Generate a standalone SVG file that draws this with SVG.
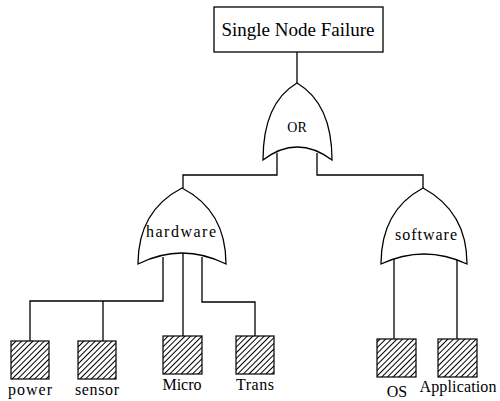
<svg xmlns="http://www.w3.org/2000/svg" width="500" height="401" viewBox="0 0 500 401">
<style>
.s{fill:none;stroke:#000;stroke-width:1.3}
.g{fill:#fff;stroke:#000;stroke-width:1.3}
.b{fill:url(#hatch);stroke:#000;stroke-width:1.2}
text{font-family:'Liberation Serif','DejaVu Serif',serif;font-size:16px;fill:#000;text-anchor:middle}
.t{font-size:19px}
.o{font-size:14px}
.m{font-size:16px}
</style>
<defs>
<pattern id="hatch" width="4" height="4" patternUnits="userSpaceOnUse" patternTransform="rotate(45)">
<rect width="4" height="4" fill="#fff"/>
<line x1="0.5" y1="0" x2="0.5" y2="4" stroke="#000" stroke-width="1"/>
</pattern>
</defs>
<rect width="500" height="401" fill="#fff"/>
<g id="connectors" class="s">
<path d="M297,52 V83"/>
<path d="M277,153 V175 H183 V188"/>
<path d="M317,153 V175 H423 V188"/>
<path d="M163,257 V301 H30 V341"/>
<path d="M103,301 V341"/>
<path d="M183,253 V336"/>
<path d="M202,257 V302 H255 V336"/>
<path d="M394,257 V339"/>
<path d="M457,258 V339"/>
</g>
<g id="top">
<rect x="214" y="7" width="169" height="45" class="g"/>
<text x="298" y="36" class="t">Single Node Failure</text>
</g>
<g id="or">
<path class="g" d="M263,160 C263,120 275,96 297,83 C319,96 332,120 332,160 Q297,134 263,160 Z"/>
<text x="297" y="132" class="o">OR</text>
</g>
<g id="hardware">
<path class="g" d="M138,264 C138,225 155,202 182,188 C209,202 226,225 226,264 Q182,242 138,264 Z"/>
<text x="181" y="237" class="m" textLength="70">hardware</text>
</g>
<g id="software">
<path class="g" d="M381,264 C381,225 397,202 423,188 C449,202 467,225 467,264 Q424,244 381,264 Z"/>
<text x="426" y="240" class="m" textLength="62">software</text>
</g>
<g id="power">
<rect x="11" y="341" width="38" height="38" class="b"/>
<text x="30" y="395" textLength="44">power</text>
</g>
<g id="sensor">
<rect x="78" y="341" width="38" height="38" class="b"/>
<text x="97" y="395" textLength="44">sensor</text>
</g>
<g id="micro">
<rect x="163" y="336" width="39" height="38" class="b"/>
<text x="182" y="390">Micro</text>
</g>
<g id="trans">
<rect x="236" y="336" width="38" height="38" class="b"/>
<text x="255" y="390" textLength="38">Trans</text>
</g>
<g id="os">
<rect x="377" y="339" width="39" height="38" class="b"/>
<text x="397" y="397">OS</text>
</g>
<g id="application">
<rect x="438" y="339" width="39" height="38" class="b"/>
<text x="458" y="392" textLength="77">Application</text>
</g>
</svg>
